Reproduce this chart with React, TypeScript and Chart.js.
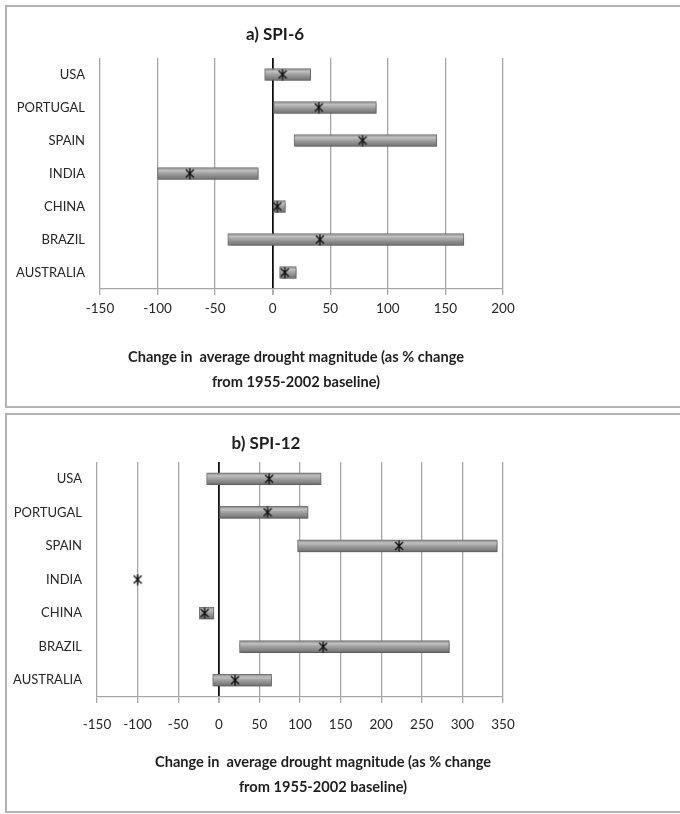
import React, { useEffect, useRef } from 'react';
import { Chart, registerables } from 'chart.js';

Chart.register(...registerables);

const countries = ['USA', 'PORTUGAL', 'SPAIN', 'INDIA', 'CHINA', 'BRAZIL', 'AUSTRALIA'];

// a) SPI-6: range (low / high) and central estimate
const spi6Low = [-7, 0, 18.5, -100, 0, -39, 6];
const spi6High = [33, 90, 142.5, -12.5, 11, 166, 20.5];
const spi6Mid = [8.5, 40, 78, -72, 4, 41, 10.5];

// b) SPI-12
const spi12Low: (number | null)[] = [-15, 0, 97, null, -24, 25.5, -7.5];
const spi12High: (number | null)[] = [126, 110, 343, null, -6, 284, 65];
const spi12Mid = [62, 60, 222, -100, -17.5, 128.5, 20];

const xRangeA = [-150, 200];
const xRangeB = [-150, 350];
const xStep = 50;

const titleA = 'a) SPI-6';
const titleB = 'b) SPI-12';
const axisLine1 = 'Change in  average drought magnitude (as % change';
const axisLine2 = 'from 1955-2002 baseline)';

const FONT = 'Lato, "Open Sans", sans-serif';

function makeStar(): HTMLCanvasElement {
  const c = document.createElement('canvas');
  c.width = 10;
  c.height = 12;
  const g = c.getContext('2d')!;
  g.strokeStyle = '#111';
  g.lineWidth = 1.4;
  g.beginPath();
  g.moveTo(5, 0.5);
  g.lineTo(5, 11.5);
  g.moveTo(1, 2);
  g.lineTo(9, 10);
  g.moveTo(9, 2);
  g.lineTo(1, 10);
  g.stroke();
  return c;
}

const shadowPlugin = {
  id: 'barShadow',
  beforeDatasetDraw(chart: any, args: any) {
    if (args.index !== 0) return;
    const ctx = chart.ctx;
    ctx.save();
    ctx.shadowColor = 'rgba(0,0,0,0.28)';
    ctx.shadowBlur = 3;
    ctx.shadowOffsetX = 1;
    ctx.shadowOffsetY = 2;
  },
  afterDatasetDraw(chart: any, args: any) {
    if (args.index !== 0) return;
    chart.ctx.restore();
  },
};

interface PanelProps {
  low: (number | null)[];
  high: (number | null)[];
  mid: number[];
  range: number[];
  left: number;
  top: number;
  width: number;
  height: number;
  yWidth: number;
  padTop: number;
  padRight: number;
  padBottom: number;
  xHeight: number;
  tickPad: number;
}

function Panel(p: PanelProps) {
  const ref = useRef<HTMLCanvasElement | null>(null);
  useEffect(() => {
    if (!ref.current) return;
    const star = makeStar();
    const bars = p.low.map((l, i) => (l === null || p.high[i] === null ? null : [l, p.high[i] as number]));
    const chart = new Chart(ref.current, {
      type: 'bar',
      data: {
        labels: countries,
        datasets: [
          {
            type: 'bar',
            data: bars as any,
            barThickness: 12,
            borderColor: '#747474',
            borderWidth: 1,
            borderSkipped: false,
            backgroundColor: (ctx: any) => {
              const chart = ctx.chart;
              const y = chart.scales && chart.scales.y;
              if (!y || ctx.type !== 'data') return '#999';
              const yc = y.getPixelForValue(ctx.dataIndex);
              if (!isFinite(yc)) return '#999';
              const g = chart.ctx.createLinearGradient(0, yc - 6, 0, yc + 6);
              g.addColorStop(0, '#868686');
              g.addColorStop(0.25, '#c0c0c0');
              g.addColorStop(0.5, '#a0a0a0');
              g.addColorStop(1, '#6e6e6e');
              return g;
            },
            order: 2,
          } as any,
          {
            type: 'line',
            data: p.mid,
            indexAxis: 'y',
            showLine: false,
            pointStyle: star as any,
            pointRadius: 5,
            pointHoverRadius: 5,
            order: 1,
          } as any,
        ],
      },
      plugins: [shadowPlugin],
      options: {
        indexAxis: 'y',
        animation: false,
        responsive: false,
        events: [],
        layout: { padding: { top: p.padTop, right: p.padRight, left: 0, bottom: p.padBottom } },
        plugins: { legend: { display: false }, title: { display: false }, tooltip: { enabled: false } },
        scales: {
          x: {
            type: 'linear',
            min: p.range[0],
            max: p.range[1],
            ticks: { stepSize: xStep, color: '#262626', font: { family: FONT, size: 13.5 }, padding: p.tickPad },
            grid: {
              color: (c: any) => (c.tick && c.tick.value === 0 ? '#111' : '#a6a6a6'),
              lineWidth: (c: any) => (c.tick && c.tick.value === 0 ? 1.8 : 1.3),
              tickLength: 6,
              tickColor: '#a6a6a6',
            },
            border: { color: '#a6a6a6', width: 1.3 },
            afterFit: (s: any) => {
              s.height = p.xHeight;
            },
          },
          y: {
            type: 'category',
            ticks: { color: '#262626', font: { family: FONT, size: 13 }, padding: 15 },
            grid: { display: false, drawTicks: false, tickLength: 0 },
            border: { display: false },
            afterFit: (s: any) => {
              s.width = p.yWidth;
            },
          },
        },
      } as any,
    });
    return () => chart.destroy();
  }, []);
  return (
    <canvas
      ref={ref}
      width={p.width}
      height={p.height}
      style={{ position: 'absolute', left: p.left, top: p.top, width: p.width, height: p.height }}
    />
  );
}

function Text(props: { cx: number; cy: number; lines: string[]; size: number; lh: number }) {
  return (
    <div
      style={{
        position: 'absolute',
        left: props.cx - 250,
        top: props.cy - props.lh / 2,
        width: 500,
        textAlign: 'center',
        fontFamily: FONT,
        fontWeight: 700,
        fontSize: props.size,
        lineHeight: props.lh + 'px',
        color: '#1e1e1e',
        whiteSpace: 'pre',
      }}
    >
      {props.lines.map((l, i) => (
        <div key={i}>{l}</div>
      ))}
    </div>
  );
}

export default function App() {
  const boxStyle = (top: number, h: number): React.CSSProperties => ({
    position: 'absolute',
    left: 5,
    top,
    width: 690,
    height: h,
    boxSizing: 'border-box',
    border: '2px solid #b3b3b3',
    background: '#fff',
  });
  return (
    <div style={{ position: 'absolute', left: 0, top: 0, width: 680, height: 814, overflow: 'hidden', background: '#fff' }}>
      <div style={boxStyle(5, 403)} />
      <div style={boxStyle(413, 400)} />
      <Panel
        low={spi6Low}
        high={spi6High}
        mid={spi6Mid}
        range={xRangeA}
        left={6}
        top={6}
        width={672}
        height={400}
        yWidth={94}
        padTop={52}
        padRight={175}
        padBottom={87}
        xHeight={30}
        tickPad={6}
      />
      <Panel
        low={spi12Low}
        high={spi12High}
        mid={spi12Mid}
        range={xRangeB}
        left={6}
        top={414}
        width={672}
        height={396}
        yWidth={91}
        padTop={48}
        padRight={175}
        padBottom={73}
        xHeight={40}
        tickPad={14}
      />
      <Text cx={275} cy={34} lines={[titleA]} size={17} lh={20} />
      <Text cx={266} cy={443} lines={[titleB]} size={17} lh={20} />
      <Text cx={296} cy={356} lines={[axisLine1, axisLine2]} size={14.6} lh={25} />
      <Text cx={323} cy={761} lines={[axisLine1, axisLine2]} size={14.6} lh={25} />
    </div>
  );
}
